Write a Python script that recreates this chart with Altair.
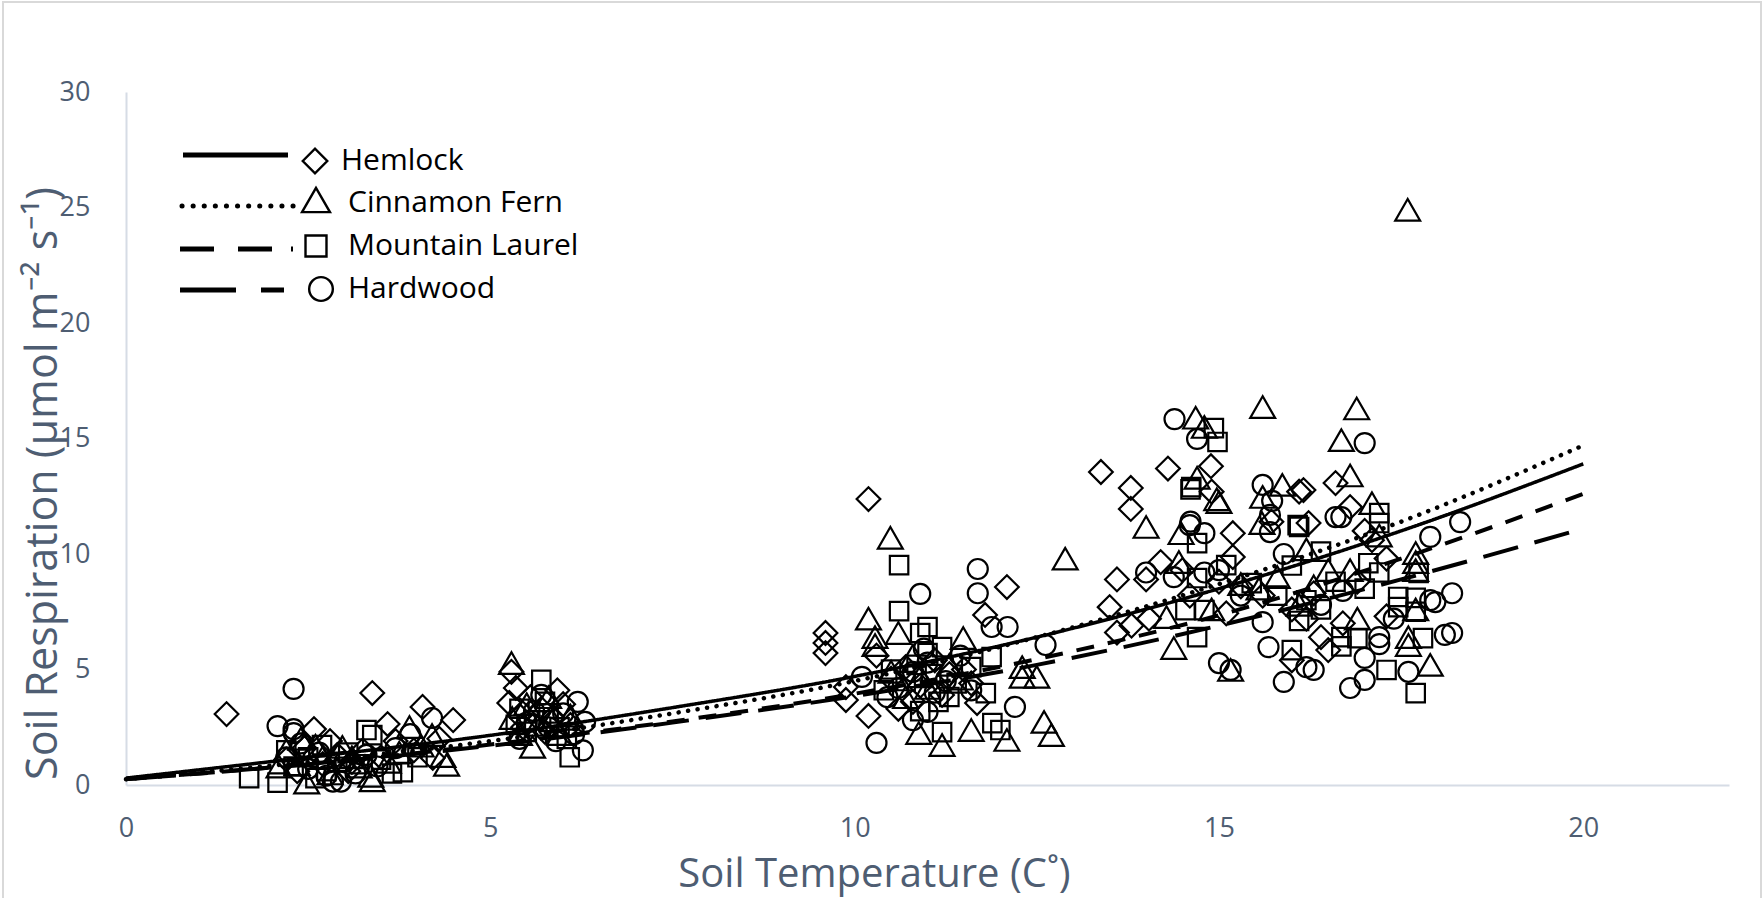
import altair as alt
import pandas as pd

SERIES = ["Hemlock", "Cinnamon Fern", "Mountain Laurel", "Hardwood"]

# ---- observations (soil temperature, soil respiration) ----
hem_x = [1.38, 2.58, 3.38, 3.59, 4.07, 4.49, 4.21, 2.2, 2.45, 2.7, 2.9, 3.1, 3.25, 3.5, 3.7, 3.95, 2.35, 2.8, 3.05, 4.3,
         5.29, 5.26, 5.92, 5.4, 5.55, 5.7, 5.85, 6.0, 5.45, 5.75, 6.1, 5.35,
         10.19, 9.6, 9.6, 9.6, 12.09, 11.79, 9.88, 9.88, 10.19, 11.68, 10.5, 10.7, 10.9, 11.1, 11.3, 11.5, 10.3, 10.8, 11.2, 11.6, 10.6,
         13.38, 14.3, 14.89, 13.79, 13.79, 14.9, 15.19, 15.19, 14.2, 13.6, 14.0, 13.5, 13.6, 13.8, 14.04, 15.1, 16.1, 16.23, 15.72,
         16.6, 16.16, 16.8, 16.5, 15.3, 15.6, 16.0, 16.3, 16.2, 16.9, 17.1, 17.3, 16.7, 14.6, 15.0, 17.0, 16.4, 16.0, 17.3, 14.5]
hem_y = [3.07, 2.42, 3.98, 2.64, 3.38, 2.81, 1.17, 1.1, 1.6, 0.9, 1.3, 1.0, 1.5, 1.2, 1.9, 1.5, 0.6, 1.9, 0.6, 2.0,
         4.9, 3.55, 4.1, 3.0, 3.8, 3.3, 2.9, 3.5, 2.5, 2.3, 2.6, 4.2,
         12.38, 6.58, 6.15, 5.71, 8.57, 7.36, 4.24, 3.68, 2.99, 3.55, 4.6, 5.1, 4.3, 5.4, 4.8, 5.0, 5.6, 3.6, 3.9, 4.4, 3.3,
         13.55, 13.7, 13.8, 12.86, 11.95, 12.7, 10.9, 9.87, 9.65, 8.9, 8.9, 7.7, 6.6, 6.9, 7.2, 7.43, 12.7, 11.34, 11.4,
         13.07, 12.77, 12.03, 5.84, 8.6, 8.2, 7.6, 8.3, 7.2, 8.8, 10.6, 9.8, 7.0, 8.2, 8.8, 11.0, 6.4, 5.4, 7.3, 9.3]

fern_x = [2.2, 2.35, 2.48, 2.6, 2.8, 2.97, 3.1, 3.38, 3.36, 3.6, 3.89, 4.2, 4.4, 4.35, 2.4, 2.7, 3.2, 3.75, 2.1, 4.05,
          5.29, 5.58, 5.3, 5.5, 5.65, 5.8, 5.95, 6.1, 5.4, 5.85,
          10.49, 12.89, 10.19, 11.49, 10.28, 10.28, 10.6, 12.3, 12.3, 12.5, 10.88, 11.2, 11.6, 12.09, 12.6, 12.7, 10.5, 10.8, 11.0,
          11.3, 10.7, 11.45, 10.9,
          15.6, 14.68, 14.8, 14.7, 15.0, 14.0, 14.48, 14.45, 14.28, 14.38, 15.16, 15.6, 15.87, 15.59, 15.55, 16.89, 16.68, 16.8,
          17.1, 17.7, 17.7, 17.7, 16.8, 17.7, 17.6, 17.6, 17.9, 17.59, 14.97, 16.3, 16.5, 16.1, 16.9, 15.3, 14.9, 17.2, 16.2, 15.8]
fern_y = [1.5, 0.9, 0.1, 1.7, 0.5, 1.65, 1.2, 0.2, 0.4, 1.0, 2.51, 2.16, 0.87, 1.25, 2.0, 1.2, 0.8, 1.4, 0.8, 1.7,
          5.28, 1.65, 2.9, 3.5, 2.6, 3.8, 2.2, 3.0, 2.2, 2.8,
          10.7, 9.8, 7.2, 6.36, 6.4, 6.06, 6.58, 5.1, 4.68, 4.68, 2.25, 1.73, 2.38, 1.95, 2.73, 2.16, 4.9, 5.6, 4.2,
          5.2, 3.8, 4.6, 4.7,
          16.36, 15.9, 15.5, 13.3, 12.25, 11.17, 10.9, 9.65, 7.27, 5.93, 4.98, 12.47, 12.99, 11.34, 8.5, 16.3, 14.93, 13.4,
          12.2, 10.04, 9.65, 9.3, 9.3, 7.6, 6.06, 6.4, 5.2, 24.9, 12.37, 8.6, 9.3, 7.8, 7.2, 8.7, 7.6, 10.8, 10.2, 9.0]

laurel_x = [1.69, 2.08, 3.3, 3.38, 2.69, 3.8, 2.3, 2.5, 2.75, 2.9, 3.05, 3.2, 3.5, 3.65, 2.2, 2.6, 4.0,
            5.7, 6.09, 5.4, 5.6, 5.8, 5.95, 6.05, 5.5, 5.75, 5.35,
            10.61, 10.61, 11.0, 10.9, 11.2, 11.0, 11.88, 11.8, 11.2, 11.89, 12.0, 11.3, 10.5, 10.7, 10.85, 11.05, 11.4, 11.6,
            10.4, 11.15, 10.9,
            14.93, 14.98, 14.61, 14.7, 15.1, 14.7, 14.54, 14.7, 14.8, 16.0, 16.1, 16.4, 16.0, 15.45, 17.2, 17.2, 17.74, 17.2,
            17.7, 17.46, 17.46, 17.7, 17.8, 16.68, 16.9, 16.68, 17.3, 17.7, 14.62, 16.08, 16.2, 16.4, 16.1, 15.8, 17.0, 16.6, 17.05]
laurel_y = [0.3, 0.1, 2.38, 2.16, 1.73, 0.56, 0.8, 1.2, 0.6, 1.0, 1.4, 0.9, 1.1, 0.5, 1.5, 0.3, 1.2,
            4.55, 1.2, 3.3, 2.8, 3.1, 2.5, 2.0, 2.3, 3.6, 2.6,
            9.52, 7.53, 6.84, 6.58, 5.97, 5.71, 5.54, 3.98, 2.29, 2.68, 2.38, 3.81, 5.0, 4.5, 5.2, 4.8, 4.4, 5.1,
            4.1, 3.6, 3.2,
            15.45, 14.85, 12.8, 10.47, 9.52, 8.96, 7.57, 6.4, 7.57, 5.84, 11.17, 10.1, 9.5, 8.74, 11.77, 11.34, 9.18, 9.2,
            8.1, 8.14, 7.7, 7.5, 6.36, 6.4, 6.36, 6.0, 4.98, 3.98, 12.9, 11.25, 8.0, 7.6, 7.1, 8.2, 8.5, 8.8, 9.6]

hard_x = [2.3, 2.08, 2.3, 2.3, 4.2, 2.84, 2.95, 2.2, 2.5, 2.65, 2.75, 3.0, 3.15, 3.3, 3.45, 3.7, 2.4, 3.9,
          6.2, 6.3, 6.27, 5.6, 5.8, 5.5, 6.0, 5.9, 5.7, 6.15, 5.4,
          11.69, 11.69, 10.9, 11.88, 12.1, 12.62, 10.1, 10.3, 11.0, 10.8, 12.2, 10.6, 10.8, 11.0, 11.25, 11.45, 11.6, 10.45,
          11.1, 10.95,
          14.39, 14.7, 14.61, 14.8, 14.0, 14.38, 14.8, 15.0, 15.16, 15.6, 15.68, 15.89, 15.6, 15.7, 15.7, 15.89, 16.6, 17.0,
          16.68, 18.31, 17.9, 18.2, 17.97, 17.9, 18.1, 18.2, 17.6, 16.8, 17.0, 17.0, 17.2, 17.2, 16.3, 16.2, 14.6, 15.0,
          15.73, 16.4, 16.7, 17.4, 15.3]
hard_y = [4.16, 2.55, 2.25, 2.42, 2.9, 0.15, 0.15, 1.2, 0.7, 1.4, 0.4, 1.0, 0.5, 1.3, 0.8, 1.6, 1.8, 2.2,
          3.6, 2.73, 1.5, 3.2, 2.5, 2.7, 3.1, 1.9, 3.9, 2.2, 2.0,
          9.35, 8.3, 8.27, 6.84, 6.84, 6.06, 4.68, 1.82, 3.16, 2.81, 3.38, 4.2, 4.9, 5.3, 4.5, 5.6, 4.1, 3.8,
          4.0, 5.9,
          15.84, 14.98, 11.4, 10.9, 9.2, 9.0, 9.2, 5.28, 4.98, 7.05, 5.97, 4.46, 12.99, 11.69, 10.95, 10.0, 11.6, 14.8,
          11.6, 11.38, 10.74, 8.3, 7.92, 8.0, 6.5, 6.58, 4.9, 4.2, 4.55, 5.5, 6.4, 6.1, 4.98, 5.1, 11.25, 9.3,
          12.3, 7.8, 8.4, 7.2, 8.2]

# ---- fitted curves ----
fit_x = [0, 2.5, 5, 7.5, 10, 12.5, 15, 17.5, 20]
fit_hem = [0.3, 1.2, 2.15, 3.35, 4.7, 6.4, 8.5, 11.0, 13.9]
fit_fern = [0.25, 1.0, 1.9, 3.1, 4.5, 6.4, 8.7, 11.4, 14.7]
fit_laurel = [0.25, 0.9, 1.75, 2.75, 3.95, 5.45, 7.35, 9.8, 12.6]
fit_hard = [0.25, 0.9, 1.7, 2.7, 3.85, 5.2, 6.9, 8.9, 11.1]

x_ticks = [0, 5, 10, 15, 20]
y_ticks = [0, 5, 10, 15, 20, 25, 30]

obs = {"Hemlock": (hem_x, hem_y), "Cinnamon Fern": (fern_x, fern_y),
       "Mountain Laurel": (laurel_x, laurel_y), "Hardwood": (hard_x, hard_y)}
fits = {"Hemlock": fit_hem, "Cinnamon Fern": fit_fern, "Mountain Laurel": fit_laurel, "Hardwood": fit_hard}

FONT = "Open Sans"
AXC = "#4E5D72"
W, H = 1603, 693

X = alt.X("temp:Q", scale=alt.Scale(domain=[0, 22], nice=False),
          axis=alt.Axis(values=x_ticks, title="Soil Temperature (C˚)", grid=False, ticks=False,
                        domainColor="#D6DCE5", domainWidth=2, labelColor=AXC, labelFontSize=27,
                        labelFont=FONT, labelPadding=30, labelFlush=False, titleFont=FONT, titleFontSize=40,
                        titleFontWeight="normal", titleColor=AXC, titleX=748, titleY=89,
                        titleAlign="center", titleBaseline="middle"))
Y = alt.Y("resp:Q", scale=alt.Scale(domain=[0, 30], nice=False),
          axis=alt.Axis(values=y_ticks, title="Soil Respiration (µmol  m⁻² s⁻¹)", grid=False, ticks=False,
                        domainColor="#D6DCE5", domainWidth=2, labelColor=AXC, labelFontSize=27,
                        labelFont=FONT, labelPadding=36, labelFlush=False, titleFont=FONT, titleFontSize=43,
                        titleFontWeight="normal", titleColor=AXC, titleX=-83, titleY=391,
                        titleAlign="center", titleBaseline="middle", titleAngle=-90))

marker = {"Hemlock": ("diamond", 560), "Cinnamon Fern": ("triangle-up", 620),
          "Mountain Laurel": ("square", 340), "Hardwood": ("circle", 400)}
dash = {"Hemlock": ([1, 0], 3.5, "butt"), "Cinnamon Fern": ([0.1, 9.5], 4.5, "round"),
        "Mountain Laurel": ([18, 14], 4, "butt"), "Hardwood": ([36, 17], 4, "butt")}

layers = []
# outer frame of the chart
frame = alt.Chart(pd.DataFrame({"k": [0]})).mark_rect(fill="transparent", stroke="#D9D9D9", strokeWidth=2).encode(
    x=alt.value(-123), x2=alt.value(1635), y=alt.value(-90), y2=alt.value(807))
layers.append(frame)

for s in SERIES:
    xs, ys = obs[s]
    df = pd.DataFrame({"temp": xs, "resp": ys, "series": s})
    shp, sz = marker[s]
    layers.append(alt.Chart(df).mark_point(shape=shp, size=sz, filled=False, color="black",
                                           strokeWidth=2.2, opacity=1).encode(x=X, y=Y))

for s in SERIES:
    df = pd.DataFrame({"temp": fit_x, "resp": fits[s], "series": s})
    d, w, cap = dash[s]
    layers.append(alt.Chart(df).mark_line(color="black", strokeWidth=w, strokeDash=d, strokeCap=cap,
                                          interpolate="monotone").encode(x=X, y=Y))

# ---- custom legend (positions in pixels of the plot area) ----
def one(name):
    return alt.Chart(pd.DataFrame({"series": [name]}))

leg = [
    # name, line x1, x2, line y, dash, cap, marker x, marker y, marker size, text x, text y
    ("Hemlock", 57, 162, 63, [1, 0], "butt", 189, 69, 600, 215, 69),
    ("Cinnamon Fern", 56, 170, 114, [0.1, 11], "round", 190, 108, 780, 222, 111),
    ("Mountain Laurel", 54, 168, 157, [34, 24, 34, 19, 2, 60], "butt", 190, 154, 440, 222, 154),
    ("Hardwood", 54, 158, 198, [56, 25, 23, 60], "butt", 195, 197, 560, 222, 197),
]
for name, x1, x2, ly, d, cap, mx, my, ms, tx, ty in leg:
    layers.append(one(name).mark_rule(color="black", strokeWidth=5, strokeDash=d, strokeCap=cap).encode(
        x=alt.value(x1), x2=alt.value(x2), y=alt.value(ly)))
    layers.append(one(name).mark_point(shape=marker[name][0], size=ms, filled=False, color="black",
                                       strokeWidth=2.4, opacity=1).encode(x=alt.value(mx), y=alt.value(my)))
    layers.append(one(name).mark_text(align="left", baseline="middle", font=FONT, fontSize=30,
                                      color="black").encode(x=alt.value(tx), y=alt.value(ty), text="series:N"))

chart = alt.layer(*layers).properties(
    width=W, height=H,
    autosize=alt.AutoSizeParams(type="none"),
    padding={"left": 126, "top": 92, "right": 35, "bottom": 113},
    background="white",
).configure_view(strokeWidth=0)

chart.save("out.html", embed_options={"renderer": "svg", "actions": False})
